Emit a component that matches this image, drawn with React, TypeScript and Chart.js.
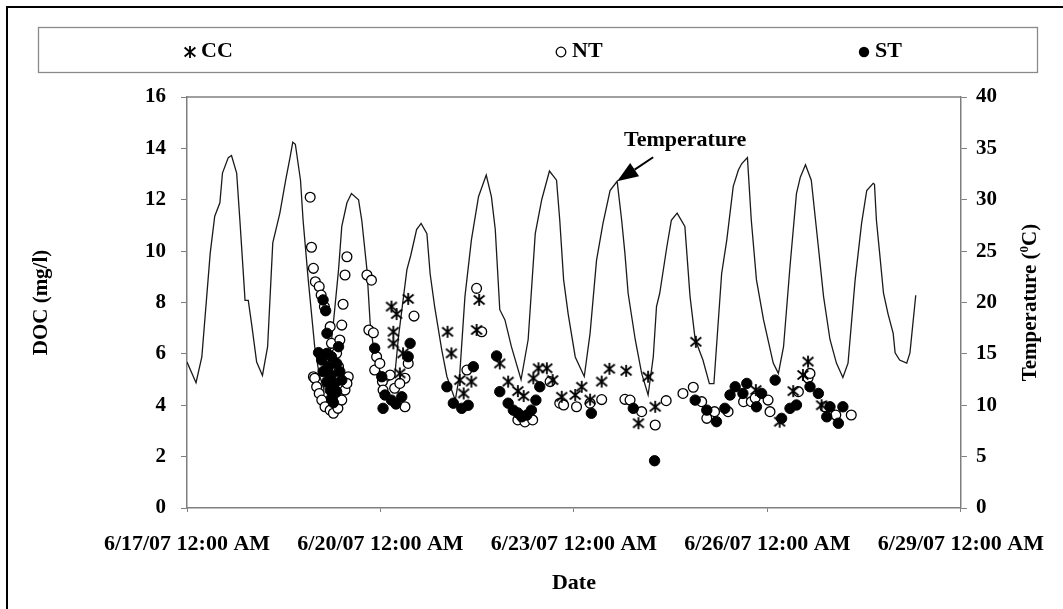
import React, { useEffect, useRef } from "react";
import { Chart, registerables } from "chart.js";

Chart.register(...registerables);

// ---------- data ----------
const xTickLabels = [
  "6/17/07 12:00 AM",
  "6/20/07 12:00 AM",
  "6/23/07 12:00 AM",
  "6/26/07 12:00 AM",
  "6/29/07 12:00 AM",
];

// days after 6/17/07 00:00
const tempDay = [
  0.0, 0.14, 0.23, 0.36, 0.43, 0.51, 0.55, 0.64, 0.69, 0.77, 0.82, 0.88, 0.9, 0.95, 1.0, 1.08, 1.17, 1.25,
  1.33, 1.44, 1.53, 1.6, 1.64, 1.68, 1.76, 1.8, 1.88, 1.98, 2.05, 2.12, 2.2, 2.27, 2.35, 2.4, 2.48, 2.55,
  2.66, 2.71, 2.79, 2.84, 2.89, 2.98, 3.08, 3.22, 3.28, 3.35, 3.41, 3.47, 3.56, 3.63, 3.72, 3.77, 3.84,
  3.95, 4.03, 4.16, 4.23, 4.31, 4.41, 4.52, 4.64, 4.72, 4.78, 4.85, 4.93, 5.03, 5.18, 5.29, 5.4, 5.5, 5.62,
  5.73, 5.78, 5.84, 5.91, 6.02, 6.16, 6.25, 6.35, 6.45, 6.56, 6.67, 6.74, 6.79, 6.84, 6.95, 7.05, 7.15,
  7.23, 7.28, 7.33, 7.44, 7.51, 7.6, 7.72, 7.8, 7.88, 8.0, 8.1, 8.17, 8.29, 8.37, 8.47, 8.55, 8.6, 8.69,
  8.75, 8.83, 8.94, 9.09, 9.17, 9.25, 9.35, 9.45, 9.51, 9.59, 9.68, 9.79, 9.87, 9.97, 10.07, 10.17, 10.25,
  10.36, 10.46, 10.54, 10.64, 10.66, 10.69, 10.74, 10.8, 10.87, 10.95, 10.98, 11.05, 11.16, 11.21, 11.3,
];
const tempC = [
  14.2, 12.2, 14.7, 24.8, 28.4, 29.7, 32.6, 34.1, 34.3, 32.6, 28.0, 22.2, 20.2, 20.2, 18.0, 14.2, 12.9, 15.7,
  25.8, 28.7, 31.9, 34.2, 35.6, 35.4, 31.9, 28.0, 22.2, 15.7, 13.0, 11.6, 14.0, 18.0, 23.2, 27.4, 29.7, 30.6,
  30.0, 28.0, 23.2, 18.0, 15.7, 13.5, 12.2, 12.8, 16.7, 20.2, 23.2, 24.6, 27.1, 27.7, 26.7, 22.8, 19.6,
  15.4, 12.8, 10.5, 13.1, 20.6, 26.1, 30.3, 32.4, 30.3, 27.1, 19.3, 18.3, 15.7, 12.5, 16.4, 26.7, 30.0, 32.8,
  31.9, 28.0, 22.2, 18.9, 14.7, 12.8, 17.0, 24.1, 27.7, 30.9, 31.8, 28.0, 24.8, 20.9, 16.4, 13.1, 11.0,
  14.7, 19.6, 20.9, 25.4, 28.0, 28.7, 27.4, 20.6, 16.4, 14.4, 12.1, 12.1, 22.8, 26.1, 31.3, 32.9, 33.5, 34.1,
  28.0, 22.2, 18.3, 14.1, 13.1, 15.7, 23.5, 30.6, 32.2, 33.4, 31.9, 25.4, 20.6, 16.4, 14.1, 12.7, 14.1,
  22.2, 27.7, 30.9, 31.6, 31.5, 28.0, 24.8, 20.9, 18.9, 17.0, 15.1, 14.4, 14.1, 15.1, 20.7,
];

const ccDay = [
  3.17, 3.25, 3.43, 3.2, 3.2, 3.35, 3.3, 4.04, 4.1, 4.23, 4.29, 4.41, 4.49, 4.53, 4.85, 4.98, 5.13, 5.22,
  5.37, 5.45, 5.58, 5.67, 5.81, 6.02, 6.12, 6.25, 6.43, 6.55, 6.81, 7.15, 7.26, 7.0, 7.89, 8.82, 9.19,
  9.4, 9.55, 9.63, 9.84,
];
const ccDoc = [
  7.84, 7.55, 8.14, 6.86, 6.41, 6.02, 5.24, 6.86, 6.02, 4.98, 4.46, 4.92, 6.93, 8.1, 5.63, 4.92, 4.55, 4.36,
  5.05, 5.44, 5.44, 4.98, 4.33, 4.4, 4.72, 4.22, 4.92, 5.42, 5.34, 5.11, 3.94, 3.3, 6.47, 4.59, 3.36,
  4.55, 5.18, 5.7, 4.0,
];

const ntDay = [
  1.91, 1.93, 1.96, 1.99, 2.05, 2.08, 2.13, 2.48, 2.45, 2.42, 2.4, 2.22, 2.24, 2.37, 2.32, 2.35, 1.96, 1.98,
  2.01, 2.05, 2.09, 2.14, 2.22, 2.27, 2.34, 2.4, 2.45, 2.5, 2.48, 2.79, 2.86, 2.82, 2.89, 2.94, 2.91, 2.99,
  3.03, 3.15, 3.04, 3.22, 3.38, 3.43, 3.3, 3.38, 3.52, 4.49, 4.57, 4.34, 5.13, 5.24, 5.36, 5.63, 5.78,
  5.84, 6.04, 6.25, 6.43, 6.79, 6.87, 7.05, 7.26, 7.43, 7.69, 7.85, 7.98, 8.06, 8.18, 8.39, 8.63, 8.75,
  8.81, 9.01, 9.04, 9.48, 9.63, 9.66, 9.89, 10.06, 10.3,
];
const ntDoc = [
  12.1, 10.15, 9.33, 8.81, 8.62, 8.29, 7.84, 9.78, 9.07, 7.93, 7.12, 7.06, 6.41, 6.54, 6.02, 5.5, 5.11, 5.05,
  4.72, 4.46, 4.2, 3.94, 3.81, 3.69, 3.88, 4.2, 4.59, 5.11, 4.85, 9.07, 8.87, 6.93, 6.82, 5.89, 5.37, 5.63,
  4.92, 5.18, 4.59, 4.66, 5.05, 5.63, 4.85, 3.94, 7.47, 8.55, 6.86, 5.37, 3.43, 3.35, 3.43, 4.92, 4.08,
  4.01, 3.94, 4.08, 4.22, 4.23, 4.2, 3.75, 3.23, 4.18, 4.46, 4.7, 4.14, 3.49, 3.75, 3.75, 4.14, 4.14,
  4.28, 4.2, 3.75, 4.53, 5.06, 5.24, 3.94, 3.62, 3.62,
];

const stDay = [
  2.11, 2.15, 2.17, 2.04, 2.17, 2.24, 2.35, 2.09, 2.19, 2.32, 2.11, 2.24, 2.37, 2.17, 2.29, 2.4, 2.22, 2.32,
  2.24, 2.27, 2.91, 3.02, 3.07, 3.17, 3.04, 3.33, 3.46, 3.43, 3.24, 4.03, 4.13, 4.26, 4.36, 4.44, 4.8, 4.85,
  4.98, 5.06, 5.13, 5.19, 5.27, 5.34, 5.41, 5.47, 6.27, 6.92, 7.25, 7.88, 8.06, 8.21, 8.34, 8.42, 8.5,
  8.62, 8.68, 8.83, 8.91, 9.12, 9.22, 9.35, 9.45, 9.66, 9.79, 9.92, 9.97, 10.1, 10.17,
];
const stDoc = [
  8.1, 7.68, 6.8, 6.05, 6.02, 5.89, 6.28, 5.76, 5.5, 5.63, 5.31, 5.18, 5.31, 4.92, 4.85, 4.98, 4.59, 4.53,
  4.27, 4.1, 6.22, 5.11, 4.4, 4.2, 3.88, 4.33, 6.41, 5.89, 4.05, 4.72, 4.08, 3.88, 4.0, 5.5, 5.92, 4.53,
  4.08, 3.81, 3.7, 3.55, 3.62, 3.81, 4.2, 4.72, 3.69, 3.88, 1.84, 4.2, 3.81, 3.36, 3.88, 4.4, 4.72,
  4.46, 4.85, 3.94, 4.46, 4.98, 3.49, 3.88, 4.01, 4.72, 4.46, 3.55, 3.94, 3.3, 3.94,
];

// ---------- styling ----------
const FONT = "'Liberation Serif', 'Times New Roman', Times, serif";
const AXIS_GRAY = "#7f7f7f";

function makeStar(size: number): HTMLCanvasElement {
  const c = document.createElement("canvas");
  c.width = size;
  c.height = size;
  const g = c.getContext("2d")!;
  const m = size / 2;
  const r = size / 2 - 1;
  g.strokeStyle = "#000";
  g.lineWidth = 1.8;
  g.beginPath();
  g.moveTo(m, m - r);
  g.lineTo(m, m + r);
  g.moveTo(m - r * 0.9, m - r * 0.75);
  g.lineTo(m + r * 0.9, m + r * 0.75);
  g.moveTo(m + r * 0.9, m - r * 0.75);
  g.lineTo(m - r * 0.9, m + r * 0.75);
  g.stroke();
  return c;
}

const toPts = (xs: number[], ys: number[]) => xs.map((x, i) => ({ x, y: ys[i] }));

export default function App() {
  const ref = useRef<HTMLCanvasElement | null>(null);

  useEffect(() => {
    if (!ref.current) return;
    const star = makeStar(14);

    const decor = {
      id: "decor",
      afterDraw(chart: any) {
        const { ctx, chartArea: ca, scales } = chart;
        ctx.save();
        // plot area top line
        ctx.strokeStyle = AXIS_GRAY;
        ctx.lineWidth = 1.5;
        ctx.beginPath();
        ctx.moveTo(ca.left, ca.top);
        ctx.lineTo(ca.right, ca.top);
        ctx.stroke();

        // outer frame
        ctx.strokeStyle = "#000";
        ctx.lineWidth = 2;
        ctx.strokeRect(7, 7, 1200, 800);

        // legend box
        ctx.strokeStyle = "#8a8a8a";
        ctx.lineWidth = 1.3;
        ctx.strokeRect(38.5, 27.5, 999, 45);

        const ds = chart.data.datasets;
        const ly = 51;
        ctx.font = `bold 22px ${FONT}`;
        ctx.fillStyle = "#000";
        ctx.textBaseline = "middle";
        ctx.textAlign = "left";
        // CC
        ctx.drawImage(star, 190 - star.width / 2, ly + 1 - star.height / 2);
        ctx.fillText(ds[0].label, 201, ly);
        // NT
        ctx.beginPath();
        ctx.arc(561, ly + 1, 4.8, 0, Math.PI * 2);
        ctx.fillStyle = "#fff";
        ctx.fill();
        ctx.strokeStyle = "#000";
        ctx.lineWidth = 1.3;
        ctx.stroke();
        ctx.fillStyle = "#000";
        ctx.fillText(ds[1].label, 572, ly);
        // ST
        ctx.beginPath();
        ctx.arc(864, ly + 1, 5.2, 0, Math.PI * 2);
        ctx.fill();
        ctx.fillText(ds[2].label, 875, ly);

        // axis titles
        const cy = (ca.top + ca.bottom) / 2;
        ctx.textAlign = "center";
        ctx.font = `bold 21px ${FONT}`;
        ctx.save();
        ctx.translate(42, cy);
        ctx.rotate(-Math.PI / 2);
        ctx.fillText("DOC (mg/l)", 0, 0);
        ctx.restore();

        ctx.save();
        ctx.translate(1031, cy);
        ctx.rotate(-Math.PI / 2);
        const p1 = "Temperature (";
        const p3 = "C)";
        ctx.font = `bold 21px ${FONT}`;
        const w1 = ctx.measureText(p1).width;
        const w3 = ctx.measureText(p3).width;
        ctx.font = `bold 13px ${FONT}`;
        const w2 = ctx.measureText("0").width;
        const total = w1 + w2 + w3;
        const x0 = -total / 2;
        ctx.textAlign = "left";
        ctx.font = `bold 21px ${FONT}`;
        ctx.fillText(p1, x0, 0);
        ctx.font = `bold 13px ${FONT}`;
        ctx.fillText("0", x0 + w1, -6);
        ctx.font = `bold 21px ${FONT}`;
        ctx.fillText(p3, x0 + w1 + w2, 0);
        ctx.restore();

        ctx.textAlign = "center";
        ctx.font = `bold 22px ${FONT}`;
        ctx.fillText("Date", (ca.left + ca.right) / 2, 583);

        // Temperature annotation, anchored at a temperature peak
        const tipX = scales.x.getPixelForValue(tempDay[81]);
        const tipY = scales.y1.getPixelForValue(tempC[81]);
        ctx.font = `bold 22px ${FONT}`;
        ctx.fillText("Temperature", tipX + 68, tipY - 41);
        const tailX = tipX + 36;
        const tailY = tipY - 24;
        const ang = Math.atan2(tipY - tailY, tipX - tailX);
        const hl = 21;
        const hw = 8;
        const bx = tipX - Math.cos(ang) * hl;
        const by = tipY - Math.sin(ang) * hl;
        ctx.strokeStyle = "#000";
        ctx.lineWidth = 2;
        ctx.beginPath();
        ctx.moveTo(tailX, tailY);
        ctx.lineTo(bx, by);
        ctx.stroke();
        ctx.beginPath();
        ctx.moveTo(tipX, tipY);
        ctx.lineTo(bx + Math.sin(ang) * hw, by - Math.cos(ang) * hw);
        ctx.lineTo(bx - Math.sin(ang) * hw, by + Math.cos(ang) * hw);
        ctx.closePath();
        ctx.fillStyle = "#000";
        ctx.fill();
        ctx.restore();
      },
    };

    const tickFont = { family: FONT, size: 21, weight: "bold" as const };
    const xTickFont = { family: FONT, size: 22, weight: "bold" as const };

    const chart = new Chart(ref.current, {
      type: "scatter",
      data: {
        datasets: [
          {
            label: "CC",
            data: toPts(ccDay, ccDoc),
            pointStyle: star as any,
            pointRadius: 7,
            yAxisID: "y",
            order: 1,
          },
          {
            label: "NT",
            data: toPts(ntDay, ntDoc),
            pointStyle: "circle",
            pointRadius: 4.9,
            backgroundColor: "#fff",
            borderColor: "#000",
            borderWidth: 1.3,
            yAxisID: "y",
            order: 3,
          },
          {
            label: "ST",
            data: toPts(stDay, stDoc),
            pointStyle: "circle",
            pointRadius: 5.2,
            backgroundColor: "#000",
            borderColor: "#000",
            borderWidth: 1,
            yAxisID: "y",
            order: 2,
          },
          {
            label: "Temperature",
            type: "line" as any,
            data: toPts(tempDay, tempC),
            showLine: true,
            borderColor: "#1a1a1a",
            borderWidth: 1.3,
            pointRadius: 0,
            tension: 0,
            yAxisID: "y1",
            order: 4,
          } as any,
        ],
      },
      options: {
        responsive: false,
        animation: false,
        devicePixelRatio: 1,
        layout: { padding: { top: 97, left: 0, right: 0, bottom: 0 } },
        plugins: { legend: { display: false }, tooltip: { enabled: false } },
        scales: {
          x: {
            type: "linear",
            min: 0,
            max: 12,
            afterFit: (s: any) => {
              s.height = 101;
            },
            ticks: {
              stepSize: 3,
              autoSkip: false,
              maxRotation: 0,
              color: "#000",
              font: xTickFont,
              padding: 19,
              callback: (v: any) => xTickLabels[Math.round(Number(v) / 3)] ?? "",
            },
            grid: { drawOnChartArea: false, tickLength: 4, color: AXIS_GRAY },
            border: { color: AXIS_GRAY, width: 1.5 },
          },
          y: {
            position: "left",
            min: 0,
            max: 16,
            afterFit: (s: any) => {
              s.width = 187;
            },
            ticks: { stepSize: 2, color: "#000", font: tickFont, padding: 15 },
            grid: { drawOnChartArea: false, tickLength: 6, color: AXIS_GRAY },
            border: { color: AXIS_GRAY, width: 1.5 },
          },
          y1: {
            position: "right",
            min: 0,
            max: 40,
            afterFit: (s: any) => {
              s.width = 102;
            },
            ticks: { stepSize: 5, color: "#000", font: tickFont, padding: 9 },
            grid: { drawOnChartArea: false, tickLength: 6, color: AXIS_GRAY },
            border: { color: AXIS_GRAY, width: 1.5 },
          },
        },
      },
      plugins: [decor],
    });

    return () => chart.destroy();
  }, []);

  return (
    <div style={{ position: "absolute", left: 0, top: 0, width: 1063, height: 609, background: "#fff" }}>
      <canvas ref={ref} width={1063} height={609} style={{ width: 1063, height: 609, display: "block" }} />
    </div>
  );
}
